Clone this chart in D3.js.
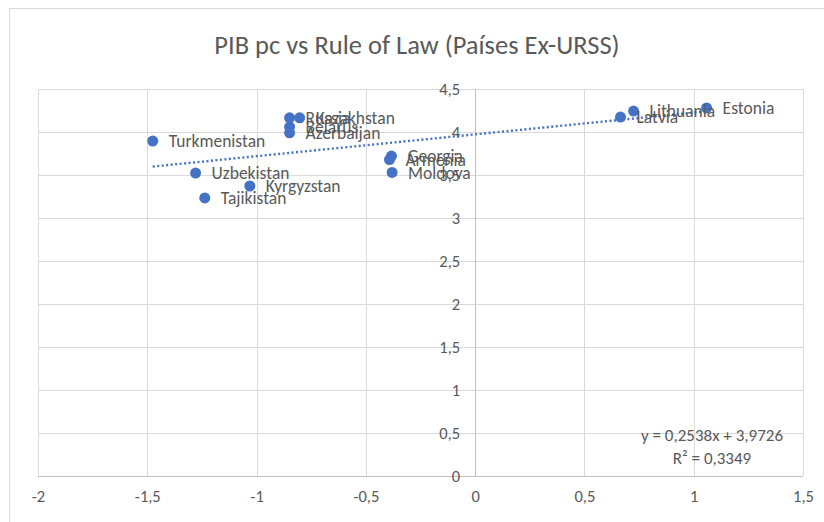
<!DOCTYPE html>
<html>
<head>
<meta charset="utf-8">
<script src="https://cdn.jsdelivr.net/npm/d3@7"></script>
<style>
  body { margin: 0; background: #fff; }
  svg { display: block; font-family: Carlito, Calibri, Lato, sans-serif; }
</style>
</head>
<body>
<svg></svg>
<script>
const width = 824;
const height = 522;

// datos (Rule of Law vs PIB pc)
const countries = ["Turkmenistan", "Uzbekistan", "Tajikistan", "Kyrgyzstan", "Russia", "Kazakhstan",
    "Belarus", "Azerbaijan", "Georgia", "Armenia", "Moldova", "Latvia", "Lithuania", "Estonia"];
const ruleOfLaw = [-1.475, -1.279, -1.237, -1.031, -0.849, -0.803, -0.849, -0.849, -0.383, -0.392, -0.380, 0.665, 0.725, 1.059];
const pibPc = [3.895, 3.523, 3.233, 3.372, 4.165, 4.165, 4.06, 3.99, 3.72, 3.68, 3.53, 4.174, 4.244, 4.28];

const xTicks = [-2, -1.5, -1, -0.5, 0, 0.5, 1, 1.5];
const yTicks = [0, 0.5, 1, 1.5, 2, 2.5, 3, 3.5, 4, 4.5];

const trendSlope = 0.2538;
const trendIntercept = 3.9726;
const trendLabel = ["y = 0,2538x + 3,9726", "R² = 0,3349"];
const title = "PIB pc vs Rule of Law (Países Ex-URSS)";

const grey = "#595959";
const gridColor = "#d9d9d9";
const blue = "#4472c4";

let svg = d3.select("svg").attr("width", width).attr("height", height);

const locale = d3.formatLocale({ decimal: ",", thousands: ".", grouping: [3], currency: ["", ""] });
const fmt = (d) => locale.format("~g")(d).replace("−", "-");

const x = d3.scaleLinear().domain([-2, 1.5]).range([38, 803]);
const y = d3.scaleLinear().domain([0, 4.5]).range([476, 89]);

// borde del gráfico
svg.append("rect")
    .attr("x", 9.5).attr("y", 8.5)
    .attr("width", 830).attr("height", 530)
    .attr("fill", "#fff")
    .attr("stroke", gridColor);

// título
svg.append("text")
    .attr("x", 417).attr("y", 54)
    .attr("text-anchor", "middle")
    .style("font-size", "26.5px")
    .style("fill", grey)
    .text(title);

// rejilla
let grid = svg.append("g").attr("stroke", gridColor).attr("stroke-width", 1);
grid.selectAll("line.h").data(yTicks).join("line").attr("class", "h")
    .attr("x1", x(-2)).attr("x2", x(1.5))
    .attr("y1", (d) => Math.round(y(d)) + 0.5).attr("y2", (d) => Math.round(y(d)) + 0.5);
grid.selectAll("line.v").data(xTicks).join("line").attr("class", "v")
    .attr("x1", (d) => Math.round(x(d)) + 0.5).attr("x2", (d) => Math.round(x(d)) + 0.5)
    .attr("y1", y(4.5)).attr("y2", y(0));

// ejes
svg.append("line")
    .attr("x1", x(-2)).attr("x2", x(1.5))
    .attr("y1", Math.round(y(0)) + 0.5).attr("y2", Math.round(y(0)) + 0.5)
    .attr("stroke", "#bfbfbf");
svg.append("line")
    .attr("x1", Math.round(x(0)) + 0.5).attr("x2", Math.round(x(0)) + 0.5)
    .attr("y1", y(4.5)).attr("y2", y(0))
    .attr("stroke", "#bfbfbf");

let xAxis = svg.append("g")
    .attr("transform", `translate(0, ${y(0)})`)
    .call(d3.axisBottom(x).tickValues(xTicks).tickFormat(fmt).tickSize(0).tickPadding(14));
let yAxis = svg.append("g")
    .attr("transform", `translate(${x(0)}, 0)`)
    .call(d3.axisLeft(y).tickValues(yTicks).tickFormat(fmt).tickSize(0).tickPadding(15));
[xAxis, yAxis].forEach((a) => {
    a.select(".domain").remove();
    a.selectAll("text")
        .style("font-family", "Carlito, Calibri, Lato, sans-serif")
        .style("font-size", "16.5px")
        .style("fill", grey);
});

// línea de tendencia
const xMin = d3.min(ruleOfLaw);
const xMax = d3.max(ruleOfLaw);
svg.append("line")
    .attr("x1", x(xMin)).attr("y1", y(trendSlope * xMin + trendIntercept))
    .attr("x2", x(xMax)).attr("y2", y(trendSlope * xMax + trendIntercept))
    .attr("stroke", blue)
    .attr("stroke-width", 2.4)
    .attr("stroke-dasharray", "2 2.5");

// puntos
const data = countries.map((c, i) => ({ name: c, rl: ruleOfLaw[i], pib: pibPc[i] }));
svg.append("g").selectAll("circle").data(data).join("circle")
    .attr("cx", (d) => x(d.rl))
    .attr("cy", (d) => y(d.pib))
    .attr("r", 5.5)
    .attr("fill", blue);

// etiquetas
svg.append("g").selectAll("text").data(data).join("text")
    .attr("x", (d) => x(d.rl) + 16)
    .attr("y", (d) => y(d.pib))
    .attr("dy", "0.35em")
    .style("font-size", "17.5px")
    .style("fill", grey)
    .text((d) => d.name);

// ecuación
svg.append("g").selectAll("text").data(trendLabel).join("text")
    .attr("x", 712)
    .attr("y", (d, i) => 435 + i * 23)
    .attr("dy", "0.35em")
    .attr("text-anchor", "middle")
    .style("font-size", "17px")
    .style("fill", grey)
    .text((d) => d);
</script>
</body>
</html>
